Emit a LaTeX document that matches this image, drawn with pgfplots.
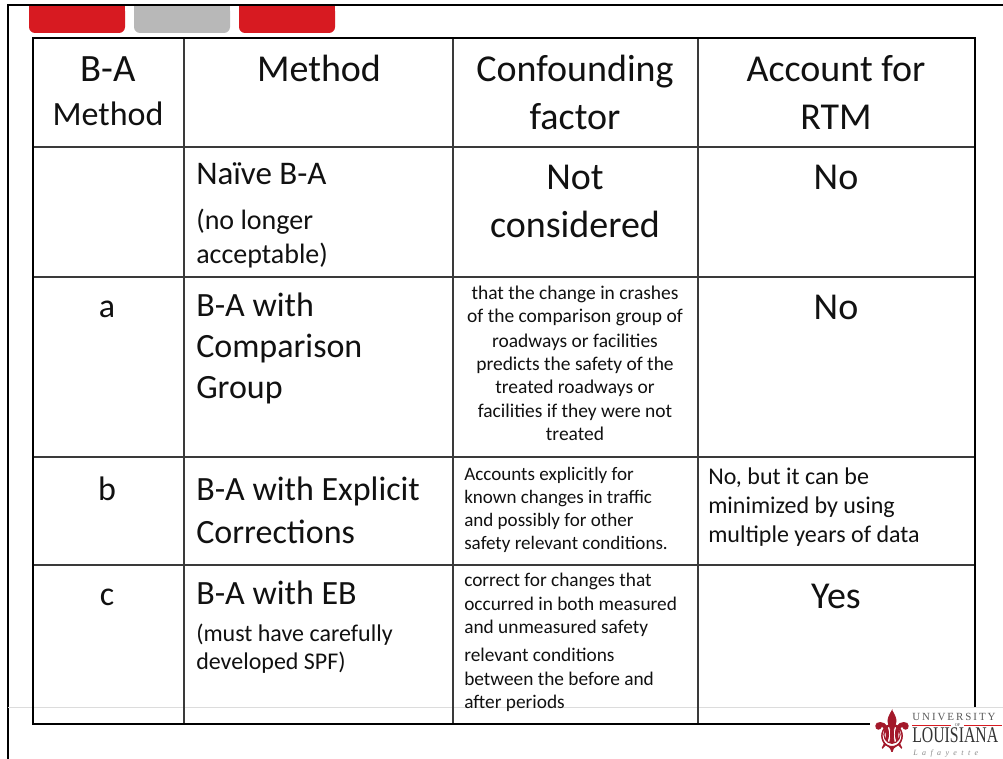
\documentclass[border=0pt]{standalone}
\usepackage{fontspec}
\usepackage{pgfplots}
\pgfplotsset{compat=1.18}
\setmainfont{Carlito}
\newfontfamily\dejavu[FakeBold=1.5]{DejaVu Sans}
\newfontfamily\logoserif{Liberation Serif}
\newfontfamily\logoserifsp[LetterSpace=18]{Liberation Serif}
\newfontfamily\logoital[LetterSpace=55]{Liberation Serif Italic}
\definecolor{tabred}{HTML}{D71A21}
\definecolor{tabgray}{HTML}{B8B8B8}
\definecolor{gridc}{HTML}{3A3A3A}
\definecolor{footg}{HTML}{DCDCDC}
\definecolor{fleur}{HTML}{A3182A}
\definecolor{txt}{HTML}{111111}
\newcommand{\fs}[1]{\fontsize{#1}{#1}\selectfont}
\newcommand{\C}[4]{\node[anchor=base,inner sep=0pt,text=txt,font=\fs{#1}] at (axis cs:#2,#3) {#4};}
\newcommand{\Lt}[4]{\node[anchor=base west,inner sep=0pt,text=txt,font=\fs{#1}] at (axis cs:#2,#3) {#4};}
\begin{document}
\begin{tikzpicture}
\begin{axis}[width=752.25pt,height=569.25pt,scale only axis,
  xmin=0,xmax=1003,ymin=0,ymax=759,y dir=reverse,hide axis,clip=false]
\fill[white] (axis cs:0,0) rectangle (axis cs:1003,759);
% tabs
\fill[tabred,rounded corners=4.5pt] (axis cs:29,5) rectangle (axis cs:125,33);
\fill[tabred] (axis cs:29,5) rectangle (axis cs:125,18);
\fill[tabgray,rounded corners=4.5pt] (axis cs:134,5) rectangle (axis cs:230,33);
\fill[tabgray] (axis cs:134,5) rectangle (axis cs:230,18);
\fill[tabred,rounded corners=4.5pt] (axis cs:239,5) rectangle (axis cs:335,33);
\fill[tabred] (axis cs:239,5) rectangle (axis cs:335,18);
% slide frame
\draw[line width=1.1pt,black] (axis cs:8,759) -- (axis cs:8,5) -- (axis cs:1003,5);
% footer line
\draw[line width=1.4pt,footg] (axis cs:8,707.5) -- (axis cs:1003,707.5);
% inner grid
\draw[line width=1.2pt,gridc] (axis cs:184,38) -- (axis cs:184,724);
\draw[line width=1.2pt,gridc] (axis cs:453,38) -- (axis cs:453,724);
\draw[line width=1.2pt,gridc] (axis cs:698,38) -- (axis cs:698,724);
\draw[line width=1.2pt,gridc] (axis cs:33,147) -- (axis cs:975,147);
\draw[line width=1.2pt,gridc] (axis cs:33,277) -- (axis cs:975,277);
\draw[line width=1.2pt,gridc] (axis cs:33,457) -- (axis cs:975,457);
\draw[line width=1.2pt,gridc] (axis cs:33,565) -- (axis cs:975,565);
% outer border
\draw[line width=2pt,black] (axis cs:975,707) -- (axis cs:975,38) -- (axis cs:33,38) -- (axis cs:33,724) -- (axis cs:875,724);
% header
\C{29}{108}{82}{B-A}
\C{25.5}{108}{126}{Method}
\C{28.5}{319}{82}{Method}
\C{28.5}{575}{82}{Confounding}
\C{28.5}{575}{130}{factor}
\C{28.5}{836}{82}{Account for}
\C{28.5}{836}{130}{RTM}
% row 1
\Lt{24.75}{196}{185}{Naïve B-A}
\Lt{21}{196}{230}{(no longer}
\Lt{21}{196}{264}{acceptable)}
\C{28.5}{575}{190}{Not}
\C{28.5}{575}{238}{considered}
\C{28.5}{836}{190}{No}
% row 2
\C{25.5}{107}{318}{a}
\Lt{25.5}{196}{316}{B-A with}
\Lt{25.5}{196}{358}{Comparison}
\Lt{25.5}{196}{398}{Group}
\C{14.6}{575}{300}{that the change in crashes}
\C{14.6}{575}{323}{of the comparison group of}
\C{14.6}{575}{347}{roadways or facilities}
\C{14.6}{575}{370}{predicts the safety of the}
\C{14.6}{575}{393}{treated roadways or}
\C{14.6}{575}{417}{facilities if they were not}
\C{14.6}{575}{440}{treated}
\C{28.5}{836}{320}{No}
% row 3
\C{25.5}{107}{500}{b}
\Lt{25.5}{196}{500}{B-A with Explicit}
\Lt{25.5}{196}{543}{Corrections}
\Lt{14.3}{464}{480}{Accounts explicitly for}
\Lt{14.3}{464}{503}{known changes in traffic}
\Lt{14.3}{464}{526}{and possibly for other}
\Lt{14.3}{464}{549}{safety relevant conditions.}
\Lt{18}{708}{484}{No, but it can be}
\Lt{18}{708}{513}{minimized by using}
\Lt{18}{708}{542}{multiple years of data}
% row 4
\C{25.5}{107}{605}{c}
\Lt{25.5}{196}{604}{B-A with EB}
\Lt{18}{196}{641}{(must have carefully}
\Lt{18}{196}{669}{developed SPF)}
\Lt{14.5}{464}{586}{correct for changes that}
\Lt{14.5}{464}{610}{occurred in both measured}
\Lt{14.5}{464}{633}{and unmeasured safety}
\Lt{14.5}{464}{661}{relevant conditions}
\Lt{14.5}{464}{685}{between the before and}
\Lt{14.5}{464}{708}{after periods}
\C{28.5}{836}{608}{Yes}
% logo
\fill[white] (axis cs:870,710) rectangle (axis cs:1003,759);
\node[inner sep=0pt,text=fleur,font=\dejavu\fs{40}] at (axis cs:892,731) {\scalebox{0.95}[1.05]{⚜}};
\node[anchor=base west,inner sep=0pt,text=black!65,font=\logoserifsp\fs{8.2}] at (axis cs:912,720.5) {UNIVERSITY};
\draw[line width=0.5pt,tabred] (axis cs:912,725) -- (axis cs:951,725);
\draw[line width=0.5pt,tabred] (axis cs:964,725) -- (axis cs:1002,725);
\node[inner sep=0pt,text=black!70,font=\logoserif\fs{3.2}] at (axis cs:957.5,725.5) {OF};
\node[anchor=base west,inner sep=0pt,text=black!80,font=\logoserif\fs{16}] at (axis cs:912,742) {\scalebox{0.74}[1.05]{LOUISIANA}};
\node[anchor=base west,inner sep=0pt,text=black!45,font=\logoital\fs{6}] at (axis cs:913,755) {Lafayette};
\end{axis}
\pgfresetboundingbox
\path (current axis.south west) rectangle (current axis.north east);
\end{tikzpicture}
\end{document}
